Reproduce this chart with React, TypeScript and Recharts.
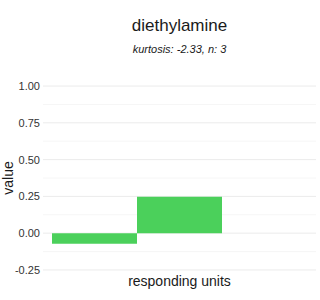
import { BarChart, Bar, XAxis, YAxis, CartesianGrid } from 'recharts';

const units = ['unit 1', 'unit 2', 'unit 3'];
const values = [-0.072, 0.247, 0];
const yTicks = [-0.25, 0, 0.25, 0.5, 0.75, 1];
const yMinor = [-0.125, 0.125, 0.375, 0.625, 0.875];

const data = units.map((unit, i) => ({ unit, value: values[i] }));

const font = '"Liberation Sans", Arial, sans-serif';

export default function App() {
  return (
    <div style={{ position: 'absolute', left: 0, top: 0, width: 320, height: 300, background: '#fff', fontFamily: font }}>
      <div style={{ position: 'absolute', left: 43, width: 273, top: 16, textAlign: 'center', fontSize: 17, color: '#1a1a1a' }}>
        diethylamine
      </div>
      <div style={{ position: 'absolute', left: 43, width: 273, top: 43, textAlign: 'center', fontSize: 11, fontStyle: 'italic', color: '#1a1a1a' }}>
        kurtosis: -2.33, n: 3
      </div>
      <BarChart
        width={320}
        height={300}
        data={data}
        margin={{ top: 79, right: 4, bottom: 23, left: 0 }}
        barCategoryGap={0}
      >
        <CartesianGrid vertical={false} horizontalValues={yMinor} stroke="#f4f4f4" strokeWidth={0.8} />
        <CartesianGrid vertical={false} horizontalValues={yTicks} stroke="#ebebeb" strokeWidth={1} />
        <XAxis dataKey="unit" hide padding={{ left: 9, right: 9 }} />
        <YAxis
          width={43}
          domain={[-0.298, 1.048]}
          ticks={yTicks}
          allowDataOverflow
          axisLine={false}
          tickLine={false}
          tickSize={1}
          tickMargin={2}
          tickFormatter={(v: number) => v.toFixed(2)}
          tick={{ fontSize: 11, fill: '#333', fontFamily: font }}
        />
        <Bar dataKey="value" fill="#4bd05b" isAnimationActive={false} />
      </BarChart>
      <div style={{ position: 'absolute', left: 43, width: 273, top: 273, textAlign: 'center', fontSize: 14, color: '#1a1a1a' }}>
        responding units
      </div>
      <div
        style={{
          position: 'absolute',
          left: 8,
          top: 178,
          transform: 'translate(-50%, -50%) rotate(-90deg)',
          fontSize: 14,
          color: '#1a1a1a',
          whiteSpace: 'nowrap',
        }}
      >
        value
      </div>
    </div>
  );
}
